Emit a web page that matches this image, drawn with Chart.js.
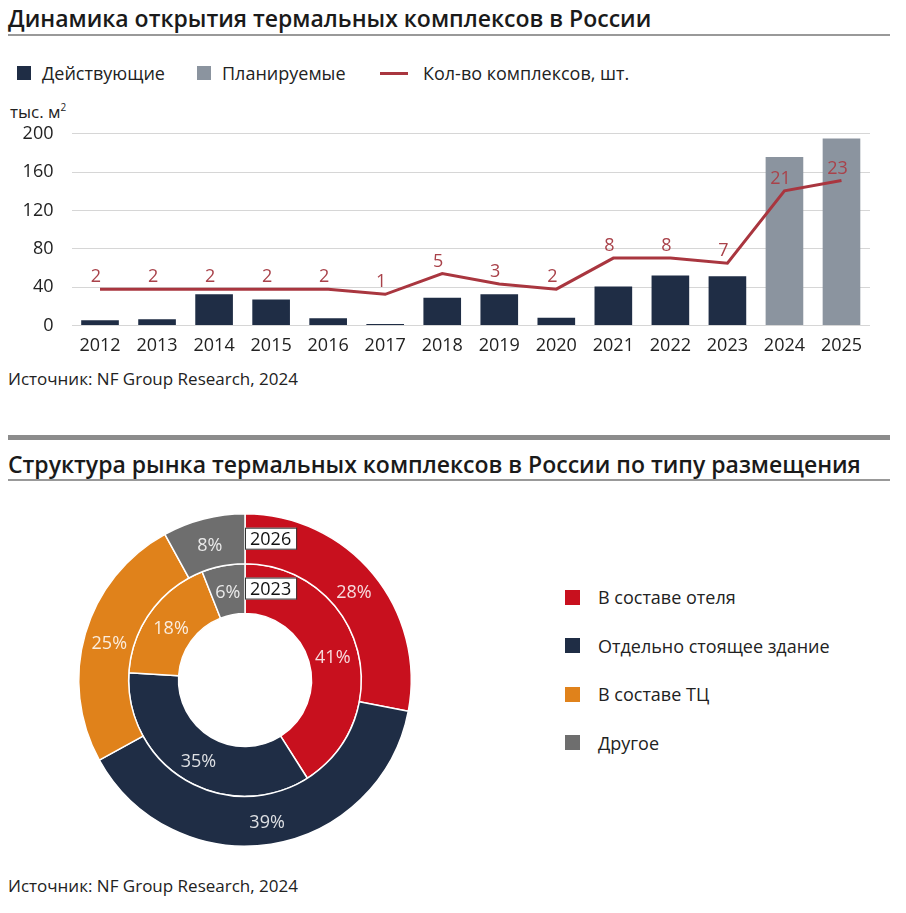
<!DOCTYPE html>
<html>
<head>
<meta charset="utf-8">
<script src="https://cdn.jsdelivr.net/npm/chart.js@4"></script>
<style>
  body { margin: 0; background: #fff; width: 906px; height: 913px; position: relative; overflow: hidden;
         font-family: "Open Sans", sans-serif; color: #222; }
  .abs { position: absolute; white-space: nowrap; }
  .title { font-size: 23px; font-weight: 600; color: #1a1a1a; }
  .rule { position: absolute; left: 8px; width: 882px; background: #999; }
  .lg { position: absolute; display: flex; align-items: center; font-size: 18px; color: #222; }
  .sw { width: 14px; height: 14px; display: inline-block; }
  .src { font-size: 17px; color: #222; }
</style>
</head>
<body>
<div class="abs title" style="left:8px; top:2px;">Динамика открытия термальных комплексов в России</div>
<div class="rule" style="top:34px; height:2px;"></div>
<div id="topLegend"></div>
<div class="abs" style="left:10px; top:100px; font-size:17px;">тыс. м<sup style="font-size:10px;">2</sup></div>
<canvas id="barChart" class="abs" style="left:0; top:105px;" width="900" height="254"></canvas>
<div class="abs src" style="left:8px; top:367px;">Источник: NF Group Research, 2024</div>
<div class="rule" style="top:435px; height:5px; background:#8c8c8c;"></div>
<div class="abs title" style="left:8px; top:448px;">Структура рынка термальных комплексов в России по типу размещения</div>
<div class="rule" style="top:479px; height:2px;"></div>
<canvas id="donutChart" class="abs" style="left:60px; top:505px;" width="370" height="350"></canvas>
<div id="donutLegend"></div>
<div class="abs src" style="left:8px; top:874px;">Источник: NF Group Research, 2024</div>

<script>
const years = ["2012", "2013", "2014", "2015", "2016", "2017", "2018", "2019", "2020", "2021", "2022", "2023", "2024", "2025"];
const operating = [5.3, 6.3, 32.4, 27, 7.4, 1.5, 28.9, 32.4, 8.1, 40.5, 52, 51.3, null, null];
const planned = [null, null, null, null, null, null, null, null, null, null, null, null, 175.7, 195];
const complexCount = [2, 2, 2, 2, 2, 1, 5, 3, 2, 8, 8, 7, 21, 23];
const areaTicks = [0, 40, 80, 120, 160, 200];

const placeTypes = ["В составе отеля", "Отдельно стоящее здание", "В составе ТЦ", "Другое"];
const share2026 = [28, 39, 25, 8];
const share2023 = [41, 35, 18, 6];
const ringYears = ["2026", "2023"];

const NAVY = "#1f2d45";
const PLAN = "#8b949f";
const LINE = "#a9363f";
const placeColors = ["#c8101e", "#1f2d45", "#e0821b", "#6e6e6e"];

// legends as html
const topLegend = document.getElementById("topLegend");
[
  { text: "Действующие", color: NAVY, left: 17 },
  { text: "Планируемые", color: PLAN, left: 197 },
].forEach((it) => {
  const d = document.createElement("div");
  d.className = "lg";
  d.style.left = it.left + "px";
  d.style.top = "61px";
  d.innerHTML = `<span class="sw" style="background:${it.color}"></span><span style="margin-left:11px">${it.text}</span>`;
  topLegend.appendChild(d);
});
{
  const d = document.createElement("div");
  d.className = "lg";
  d.style.left = "380px";
  d.style.top = "61px";
  d.innerHTML = `<span style="width:28px;height:3px;background:${LINE};display:inline-block"></span><span style="margin-left:15px">Кол-во комплексов, шт.</span>`;
  topLegend.appendChild(d);
}
const donutLegend = document.getElementById("donutLegend");
placeTypes.forEach((t, i) => {
  const d = document.createElement("div");
  d.className = "lg";
  d.style.left = "565px";
  d.style.top = 585 + i * 48.5 + "px";
  d.innerHTML = `<span class="sw" style="width:15px;height:15px;background:${placeColors[i]}"></span><span style="margin-left:18px">${t}</span>`;
  donutLegend.appendChild(d);
});

Chart.defaults.font.family = "Open Sans";
Chart.defaults.color = "#222";

// numbers above the line
const lineLabels = {
  id: "lineLabels",
  afterDatasetsDraw(chart) {
    const { ctx } = chart;
    const meta = chart.getDatasetMeta(2);
    ctx.save();
    ctx.font = "18px Open Sans";
    ctx.fillStyle = "#a9424a";
    ctx.textAlign = "center";
    ctx.textBaseline = "middle";
    meta.data.forEach((pt, i) => {
      ctx.fillText(complexCount[i], pt.x - 4, pt.y - 12);
    });
    ctx.restore();
  },
};

new Chart(document.getElementById("barChart"), {
  type: "bar",
  plugins: [lineLabels],
  data: {
    labels: years,
    datasets: [
      { label: "Действующие", data: operating, backgroundColor: NAVY, barPercentage: 0.66, categoryPercentage: 1, order: 2 },
      { label: "Планируемые", data: planned, backgroundColor: PLAN, barPercentage: 0.66, categoryPercentage: 1, order: 2 },
      {
        type: "line", label: "Кол-во комплексов, шт.", data: complexCount, yAxisID: "y1",
        borderColor: LINE, borderWidth: 3, pointRadius: 0, tension: 0, order: 1,
      },
    ],
  },
  options: {
    responsive: false,
    animation: false,
    layout: { padding: { top: 6, right: 30, bottom: 0, left: 0 } },
    plugins: { legend: { display: false }, tooltip: { enabled: false } },
    scales: {
      x: {
        stacked: true,
        grid: { display: false },
        border: { display: false },
        ticks: { font: { size: 18 }, color: "#222", padding: 2 },
      },
      y: {
        stacked: true,
        min: 0, max: 200,
        afterBuildTicks: (s) => { s.ticks = areaTicks.map((v) => ({ value: v })); },
        afterFit: (s) => { s.width = 71.5; },
        grid: { color: "#d6d6d6", lineWidth: 1, drawTicks: false },
        border: { display: false },
        ticks: { font: { size: 18 }, color: "#222", padding: 18 },
      },
      y1: { display: false, min: -5, max: 32 },
    },
  },
});

// percentage labels and year tags on the rings
const ringLabels = {
  id: "ringLabels",
  afterDatasetsDraw(chart) {
    const { ctx } = chart;
    ctx.save();
    ctx.font = "18px Open Sans";
    ctx.textAlign = "center";
    ctx.textBaseline = "middle";
    chart.data.datasets.forEach((ds, di) => {
      const meta = chart.getDatasetMeta(di);
      meta.data.forEach((arc, i) => {
        const p = arc.tooltipPosition();
        ctx.fillStyle = "rgba(255,255,255,0.85)";
        ctx.fillText(ds.data[i] + "%", p.x, p.y + 3);
      });
      const a = meta.data[0];
      const midR = (a.innerRadius + a.outerRadius) / 2;
      const bx = a.x, by = a.y - midR;
      const w = ctx.measureText(ringYears[di]).width + 10;
      ctx.fillStyle = "#fff";
      ctx.fillRect(bx, by - 11, w, 22);
      ctx.strokeStyle = "#333";
      ctx.lineWidth = 1;
      ctx.strokeRect(bx + 0.5, by - 10.5, w, 21);
      ctx.fillStyle = "#111";
      ctx.textAlign = "left";
      ctx.fillText(ringYears[di], bx + 5, by + 1);
      ctx.textAlign = "center";
    });
    ctx.restore();
  },
};

new Chart(document.getElementById("donutChart"), {
  type: "doughnut",
  plugins: [ringLabels],
  data: {
    labels: placeTypes,
    datasets: [
      { label: ringYears[0], data: share2026, backgroundColor: placeColors, borderColor: "#fff", borderWidth: 1.5 },
      { label: ringYears[1], data: share2023, backgroundColor: placeColors, borderColor: "#fff", borderWidth: 1.5 },
    ],
  },
  options: {
    responsive: false,
    animation: false,
    cutout: "40%",
    layout: { padding: 8 },
    plugins: { legend: { display: false }, tooltip: { enabled: false } },
  },
});
</script>
</body>
</html>
